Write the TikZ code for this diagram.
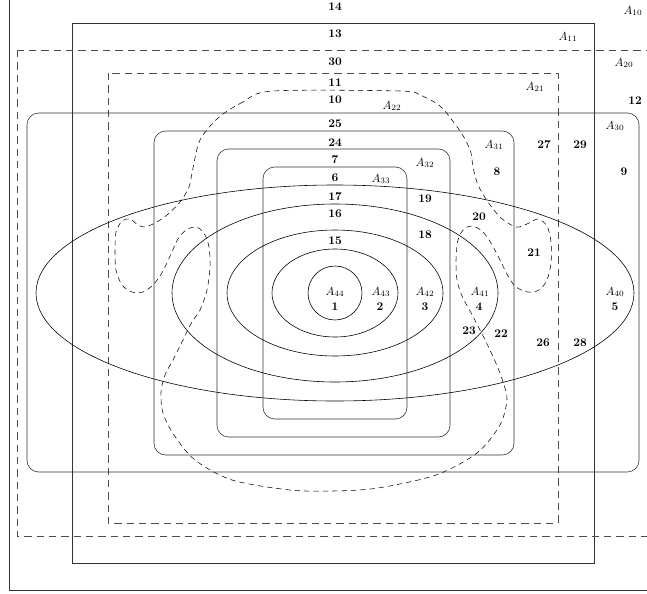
\documentclass[tikz,border=0pt]{standalone}
\usepackage{amsmath,amsfonts}
\tikzset{
  boxline/.style={draw=black!80, line width=0.5pt},
  roundbox/.style={boxline, rounded corners=3.5mm},
  dashbox/.style={draw=black!70, line width=0.5pt, dash pattern=on 2.2mm off 1.5mm},
  blobline/.style={draw=black, line width=0.45pt, dash pattern=on 1.6mm off 1.2mm},
  ovalline/.style={draw=black, line width=0.5pt},
  num/.style={font=\bfseries, inner sep=1pt},
  setname/.style={inner sep=1pt}
}
\begin{document}
\begin{tikzpicture}[x=0.3mm,y=-0.3mm]
%
	\clip (0,0) rectangle (647,593);
	\useasboundingbox (0,0) rectangle (647,593);
% first family
	\draw[boxline] (9,-10) rectangle (680,590);
	\draw[boxline] (72,23) rectangle (594,563);
% second family
	\draw[dashbox] (17,50) rectangle (700,536);
	\draw[dashbox] (108,73) rectangle (558,523);
	\draw[blobline] plot[smooth cycle] coordinates {
		(273,91) (243,102) (218,118) (200,140) (193,168) (189,187) (180,202)
		(167,215) (155,223) (145,227) (138,225) (130,219) (122,221) (116,232)
		(115,250) (116,270) (122,285) (132,292) (143,292) (154,284) (163,271)
		(171,254) (178,239) (186,230) (196,227) (204,233) (209,247) (210,267)
		(207,290) (200,310) (192,322) (183,340) (173,360) (165,375) (161,392)
		(163,413) (174,435) (195,460) (232,480) (290,490) (334,491) (378,488)
		(436,475) (477,453) (500,425) (507,400) (504,385) (498,368) (489,348)
		(479,328) (470,311) (462,296) (457,280) (456,260) (458,240) (464,229)
		(472,226) (482,231) (491,243) (500,260) (508,276) (516,287) (528,292)
		(539,290) (547,280) (551,263) (551,242) (547,226) (538,219) (527,224)
		(516,227) (501,218) (488,202) (478,185) (473,167) (471,153) (465,139)
		(455,124) (440,106) (420,95) (400,91)};
% third family
	\draw[roundbox] (27,113) rectangle (639,472);
	\draw[roundbox] (154,131) rectangle (514,455);
	\draw[roundbox] (217,149) rectangle (450,437);
	\draw[roundbox] (263,167) rectangle (407,419);
% fourth family
	\draw[ovalline] (335,293) ellipse [x radius=299, y radius=108];
	\draw[ovalline] (335,293) ellipse [x radius=163, y radius=89];
	\draw[ovalline] (335,293) ellipse [x radius=108, y radius=63];
	\draw[ovalline] (335,293) ellipse [x radius=63, y radius=44];
	\draw[ovalline] (335,293) ellipse [x radius=27, y radius=27];
% set names
	\node[setname] (a10) at (633,11) {$A_{10}$};
	\node[setname] (a11) at (568,37) {$A_{11}$};
	\node[setname] (a20) at (624,63) {$A_{20}$};
	\node[setname] (a21) at (535,87) {$A_{21}$};
	\node[setname] (a22) at (392,106) {$A_{22}$};
	\node[setname] (a30) at (615,126) {$A_{30}$};
	\node[setname] (a31) at (494,145) {$A_{31}$};
	\node[setname] (a32) at (425,163) {$A_{32}$};
	\node[setname] (a33) at (381,179) {$A_{33}$};
	\node[setname] (a40) at (615,292) {$A_{40}$};
	\node[setname] (a41) at (480,292) {$A_{41}$};
	\node[setname] (a42) at (425,292) {$A_{42}$};
	\node[setname] (a43) at (381,292) {$A_{43}$};
	\node[setname] (a44) at (335,292) {$A_{44}$};
% region numbers
	\node[num] (n1) at (335,307) {1};
	\node[num] (n2) at (380,307) {2};
	\node[num] (n3) at (425,307) {3};
	\node[num] (n4) at (479,307) {4};
	\node[num] (n5) at (615,307) {5};
	\node[num] (n6) at (335,178) {6};
	\node[num] (n7) at (335,160) {7};
	\node[num] (n8) at (497,172) {8};
	\node[num] (n9) at (624,172) {9};
	\node[num] (n10) at (335,100) {10};
	\node[num] (n11) at (335,83) {11};
	\node[num] (n12) at (635,101) {12};
	\node[num] (n13) at (335,34) {13};
	\node[num] (n14) at (335,7) {14};
	\node[num] (n15) at (335,241) {15};
	\node[num] (n16) at (335,214) {16};
	\node[num] (n17) at (335,197) {17};
	\node[num] (n18) at (425,235) {18};
	\node[num] (n19) at (425,199) {19};
	\node[num] (n20) at (479,217) {20};
	\node[num] (n21) at (534,253) {21};
	\node[num] (n22) at (501,334) {22};
	\node[num] (n23) at (469,331) {23};
	\node[num] (n24) at (335,143) {24};
	\node[num] (n25) at (335,124) {25};
	\node[num] (n26) at (543,343) {26};
	\node[num] (n27) at (544,145) {27};
	\node[num] (n28) at (580,343) {28};
	\node[num] (n29) at (580,145) {29};
	\node[num] (n30) at (335,62) {30};
%
\end{tikzpicture}
\end{document}
